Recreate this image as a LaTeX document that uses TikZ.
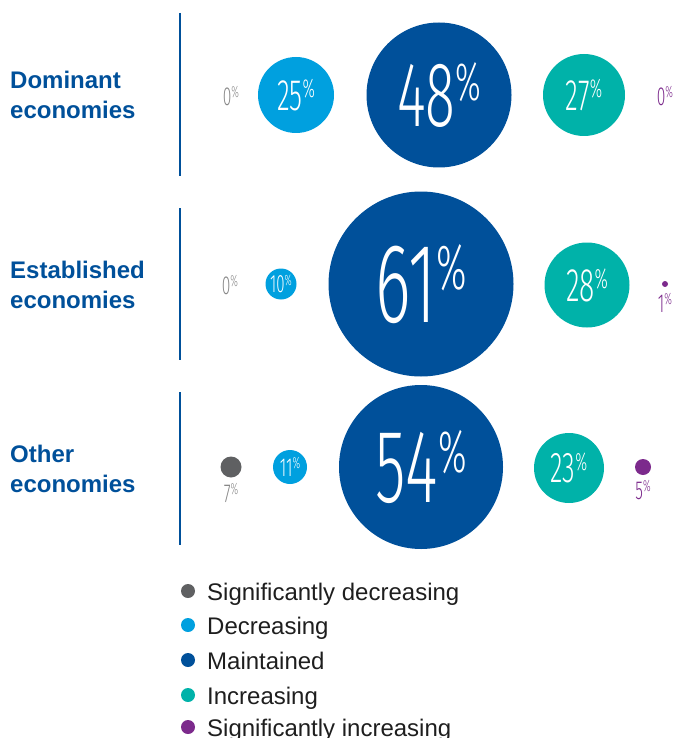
\documentclass[tikz,border=0pt]{standalone}
\usepackage{fontspec}
\setmainfont{Liberation Sans}
\newfontfamily\numfont[FakeStretch=0.6]{Fira Sans Light}
\usetikzlibrary{positioning}

\definecolor{darkblue}{RGB}{0,80,154}
\definecolor{lightblue}{RGB}{0,160,223}
\definecolor{teal}{RGB}{0,178,169}
\definecolor{purp}{RGB}{124,42,140}
\definecolor{darkgray}{RGB}{95,96,98}
\definecolor{numgray}{RGB}{135,135,135}
\definecolor{keytext}{RGB}{30,30,30}

% number with a small raised percent sign: #1 size, #2 size of %, #3 number
\newcommand\pct[3]{{\numfont\fontsize{#1}{#1}\selectfont #3%
  \setbox0\hbox{0}\dimen0=\ht0\relax
  \fontsize{#2}{#2}\selectfont\setbox2\hbox{\%}%
  \dimen2=\dimexpr\dimen0-\ht2+1pt\relax\raise\dimen2\box2}}

\begin{document}
\begin{tikzpicture}[x=1pt, y=-1pt]
  \useasboundingbox (0,0) rectangle (675,738);

  \tikzset{bubble/.style={circle,inner sep=0pt,text=white}}
  \tikzset{row label/.style={anchor=west,inner sep=0pt,align=left,text=darkblue,
      font=\fontsize{24}{30}\selectfont\bfseries}}
  \tikzset{side value/.style={inner sep=0pt}}
  \tikzset{key dot/.style={circle,inner sep=0pt,minimum size=14pt}}
  \tikzset{key text/.style={anchor=base west,inner sep=0pt,text=keytext,
      font=\fontsize{24}{24}\selectfont}}
  \tikzset{divider/.style={draw=darkblue,line width=1.6pt}}

  % row labels and dividers
  \path
    (10, 95) node[row label](dom) {Dominant\\economies}
    (10, 285) node[row label](est) {Established\\economies}
    (10, 469) node[row label](oth) {Other\\economies}
  ;
  \coordinate (dom top) at (180,13);  \coordinate (dom bot) at (180,176);
  \coordinate (est top) at (180,208); \coordinate (est bot) at (180,360);
  \coordinate (oth top) at (180,392); \coordinate (oth bot) at (180,545);
  \draw[divider] (dom top) -- (dom bot);
  \draw[divider] (est top) -- (est bot);
  \draw[divider] (oth top) -- (oth bot);

  % dominant economies
  \path
    (231, 96) node[side value,text=numgray](dom sd) {\pct{26}{16}{0}}
    (296, 95) node[bubble,fill=lightblue,minimum size=76pt](dom d) {\pct{44}{26}{25}}
    (439, 95) node[bubble,fill=darkblue,minimum size=145pt](dom m) {\pct{92}{54}{48}}
    (584, 95) node[bubble,fill=teal,minimum size=82pt](dom i) {\pct{44}{26}{27}}
    (665, 96) node[side value,text=purp](dom si) {\pct{26}{16}{0}}
  ;

  % established economies
  \path
    (230, 285) node[side value,text=numgray](est sd) {\pct{26}{16}{0}}
    (281, 284) node[bubble,fill=lightblue,minimum size=31pt](est d) {\pct{25}{15}{10}}
    (421, 284) node[bubble,fill=darkblue,minimum size=185pt](est m) {\pct{113}{64}{61}}
    (587, 285) node[bubble,fill=teal,minimum size=85pt](est i) {\pct{47}{28}{28}}
    (665, 284) node[bubble,fill=purp,minimum size=6pt](est si) {}
    (665, 303) node[side value,text=purp](est si val) {\pct{26}{16}{1}}
  ;

  % other economies
  \path
    (231, 467) node[bubble,fill=darkgray,minimum size=21pt](oth sd) {}
    (231, 493) node[side value,text=numgray](oth sd val) {\pct{26}{16}{7}}
    (290, 467) node[bubble,fill=lightblue,minimum size=34pt](oth d) {\pct{26}{16}{11}}
    (421, 467) node[bubble,fill=darkblue,minimum size=164pt](oth m) {\pct{104}{60}{54}}
    (569, 468) node[bubble,fill=teal,minimum size=70pt](oth i) {\pct{43}{25}{23}}
    (643, 467) node[bubble,fill=purp,minimum size=16pt](oth si) {}
    (643, 490) node[side value,text=purp](oth si val) {\pct{26}{16}{5}}
  ;

  % key
  \path
    (188, 591) node[key dot,fill=darkgray](k1) {}
    (188, 625) node[key dot,fill=lightblue](k2) {}
    (188, 660) node[key dot,fill=darkblue](k3) {}
    (188, 695) node[key dot,fill=teal](k4) {}
    (188, 727) node[key dot,fill=purp](k5) {}
    (207, 600) node[key text](k1 text) {Significantly decreasing}
    (207, 634) node[key text](k2 text) {Decreasing}
    (207, 669) node[key text](k3 text) {Maintained}
    (207, 704) node[key text](k4 text) {Increasing}
    (207, 736) node[key text](k5 text) {Significantly increasing}
  ;

\end{tikzpicture}
\end{document}
